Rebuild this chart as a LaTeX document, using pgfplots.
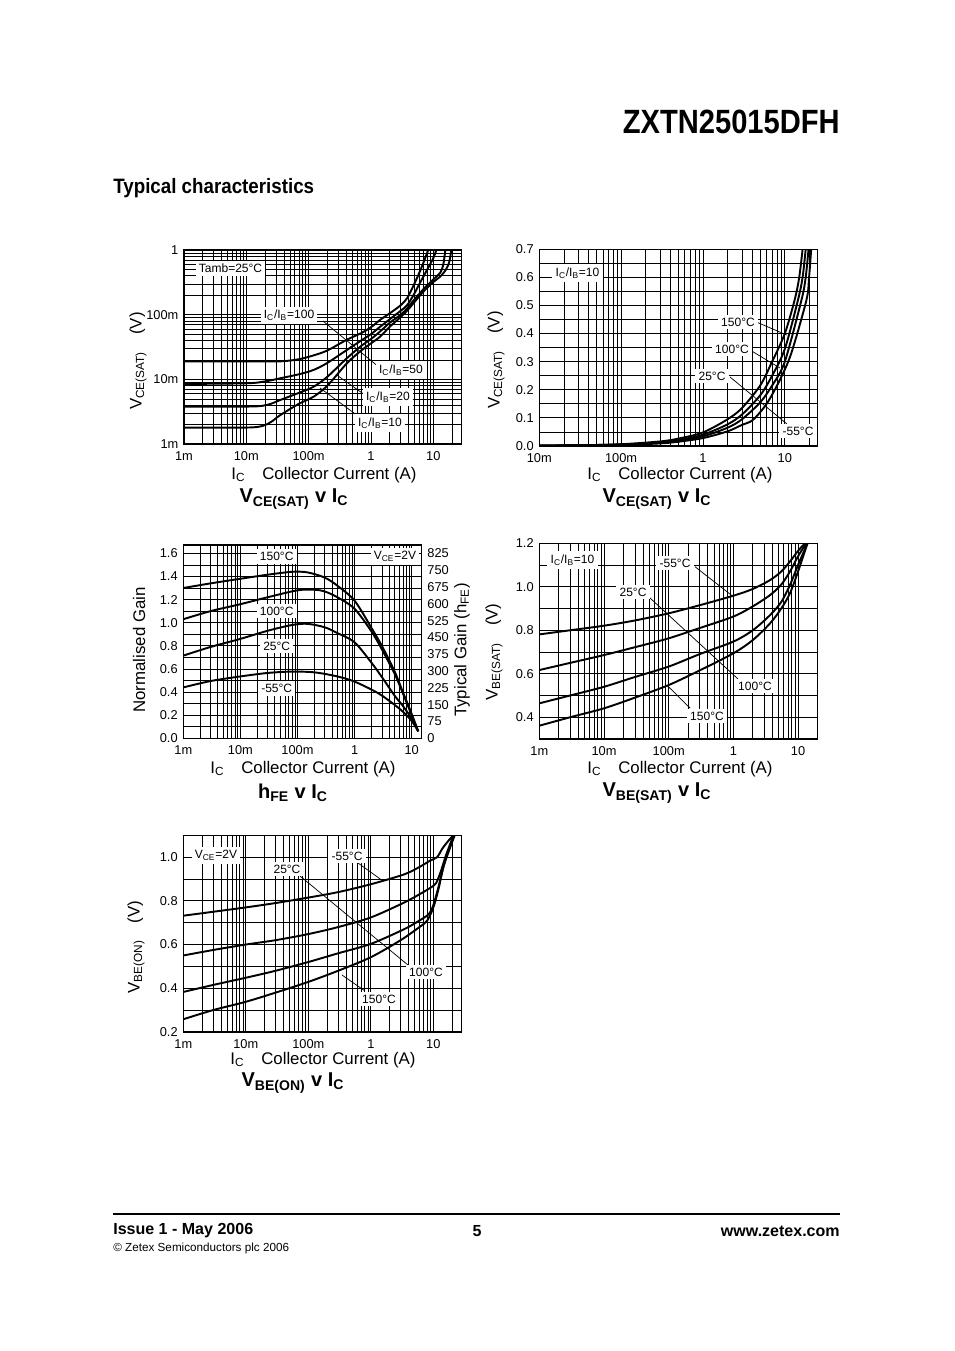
\documentclass[border=0pt]{standalone}
\usepackage{fontspec}
\setmainfont{Liberation Sans}
\usepackage{graphicx}
\usepackage{pgfplots}
\pgfplotsset{compat=1.18}

\newcommand{\sub}[1]{\textsubscript{#1}}
\newcommand{\lab}{\fontsize{10.5}{12}\selectfont}
\newcommand{\ttl}{\fontsize{12.5}{14}\selectfont\bfseries}

\pgfplotsset{
  dsgrid/.style={
    scale only axis, anchor=north west, grid=both,
    major grid style={black, line width=0.5pt},
    minor grid style={black, line width=0.4pt},
    major tick length=0pt, minor tick length=0pt,
    axis line style={line width=0.9pt},
    tick label style={font=\fontsize{8}{9}\selectfont},
    xticklabel style={yshift=-1pt},
    /pgf/number format/assume math mode=true,
  },
  fixlab/.style={yticklabel style={/pgf/number format/.cd, fixed, fixed zerofill, precision=1, assume math mode=true}},
  mxA/.style={minor xtick={0.002,0.003,0.004,0.005,0.006,0.007,0.008,0.009,0.02,0.03,0.04,0.05,0.06,0.07,0.08,0.09,0.2,0.3,0.4,0.5,0.6,0.7,0.8,0.9,2,3,4,5,6,7,8,9,20}},
  mxB/.style={minor xtick={0.02,0.03,0.04,0.05,0.06,0.07,0.08,0.09,0.2,0.3,0.4,0.5,0.6,0.7,0.8,0.9,2,3,4,5,6,7,8,9,20}},
  myA/.style={minor ytick={0.002,0.003,0.004,0.005,0.006,0.007,0.008,0.009,0.02,0.03,0.04,0.05,0.06,0.07,0.08,0.09,0.2,0.3,0.4,0.5,0.6,0.7,0.8,0.9}},
}
\tikzset{lbl/.style={fill=white, inner sep=2pt, font=\fontsize{7.5}{8}\selectfont},
  ldr/.style={black, line width=0.45pt},
  crv/.style={black, line width=1.2pt, smooth, tension=0.5, mark=none}}

\begin{document}
\begin{tikzpicture}[x=0.624pt,y=0.624pt]
\path[use as bounding box, fill=white] (0,0) rectangle (954,-1351);
\coordinate (P1) at (184,-250);
\coordinate (P2) at (539.3,-249.3);
\coordinate (P3) at (183.3,-545);
\coordinate (P4) at (539.3,-543.3);
\coordinate (P5) at (183.3,-835.3);

% ---------- header ----------
\node[anchor=east, inner sep=0pt] at (840,-122) {\scalebox{0.865}[1]{\fontsize{21}{24}\selectfont\bfseries ZXTN25015DFH}};
\node[anchor=west, inner sep=0pt] at (113,-188) {\scalebox{0.9}[1]{\fontsize{13}{15}\selectfont\bfseries Typical characteristics}};

% ---------- chart 1 : VCE(SAT) v IC ----------
\begin{axis}[dsgrid, mxA, myA, at={(P1)}, width=173.3pt, height=121.1pt,
  xmode=log, ymode=log, xmin=0.001, xmax=28.6, ymin=0.001, ymax=1,
  xtick={0.001,0.01,0.1,1,10}, xticklabels={1m,10m,100m,1,10},
  ytick={0.001,0.01,0.1,1}, yticklabels={1m,10m,100m,1}]
\addplot[crv] coordinates {(0.001,0.019)(0.01,0.019)(0.035,0.019)(0.07,0.0205)(0.12,0.0235)(0.2,0.028)(0.41,0.041)(0.7,0.052)(1,0.064)(1.4,0.083)(2,0.105)(3,0.14)(3.8,0.18)(4.8,0.28)(6,0.45)(7,0.65)(8.3,1.0)};
\addplot[crv] coordinates {(0.001,0.0085)(0.01,0.0087)(0.02,0.0093)(0.035,0.0104)(0.07,0.012)(0.12,0.014)(0.2,0.018)(0.41,0.0285)(0.7,0.04)(1,0.05)(1.4,0.065)(2,0.085)(3,0.115)(3.8,0.14)(4.8,0.2)(6,0.3)(8,0.5)(10,0.75)(11.2,1.0)};
\addplot[crv] coordinates {(0.001,0.0038)(0.01,0.0038)(0.018,0.0039)(0.025,0.0042)(0.035,0.0048)(0.07,0.0062)(0.12,0.0077)(0.2,0.011)(0.41,0.0212)(0.7,0.033)(1,0.042)(1.4,0.055)(2,0.075)(3,0.1)(3.8,0.125)(4.8,0.165)(7,0.25)(10,0.35)(13,0.45)(14.5,0.6)(15.6,1.0)};
\addplot[crv] coordinates {(0.001,0.0018)(0.01,0.0018)(0.018,0.0019)(0.025,0.0022)(0.035,0.0028)(0.07,0.0042)(0.12,0.0054)(0.2,0.008)(0.41,0.0177)(0.7,0.028)(1,0.036)(1.4,0.0457)(2,0.065)(3,0.092)(3.8,0.115)(4.8,0.15)(7,0.23)(10,0.32)(13,0.39)(16,0.5)(18,0.65)(19.5,1.0)};
\end{axis}
\draw[ldr] (323,-321) -- (380,-368);
\draw[ldr] (365,-395) -- (336.7,-375);
\draw[ldr] (358,-416) -- (320,-388);
\node[lbl] at (230.5,-268.5) {Tamb=25°C};
\node[lbl] at (289,-315.5) {I\sub{C}/I\sub{B}=100};
\node[lbl] at (401,-370) {I\sub{C}/I\sub{B}=50};
\node[lbl] at (388,-397) {I\sub{C}/I\sub{B}=20};
\node[lbl] at (380,-423) {I\sub{C}/I\sub{B}=10};
\node[rotate=90, font=\lab] at (138,-361) {V\sub{CE(SAT)}\quad(V)};
\node[font=\lab] at (324,-475) {I\sub{C}\quad Collector Current (A)};
\node[font=\ttl] at (294,-499) {V\sub{CE(SAT)} v I\sub{C}};

% ---------- chart 2 : VCE(SAT) v IC, temperature ----------
\begin{axis}[dsgrid, mxB, fixlab, at={(P2)}, width=173.5pt, height=122.7pt,
  xmode=log, xmin=0.01, xmax=25, ymin=0, ymax=0.7,
  xtick={0.01,0.1,1,10}, xticklabels={10m,100m,1,10},
  ytick={0,0.1,0.2,0.3,0.4,0.5,0.6,0.7},
  minor ytick={0.05,0.15,0.25,0.35,0.45,0.55,0.65}]
\addplot[crv] coordinates {(0.01,0.0012)(0.03,0.002)(0.1,0.006)(0.3,0.016)(0.5,0.026)(1,0.048)(2,0.095)(3,0.135)(5,0.215)(7,0.3)(10,0.4)(13.2,0.52)(15,0.6)(16.5,0.7)};
\addplot[crv] coordinates {(0.01,0.001)(0.1,0.005)(0.3,0.013)(0.5,0.021)(1,0.04)(2,0.077)(3,0.112)(5,0.18)(7,0.25)(10,0.345)(14.5,0.52)(16.5,0.6)(18,0.7)};
\addplot[crv] coordinates {(0.01,0.0009)(0.1,0.0045)(0.3,0.011)(0.5,0.018)(1,0.034)(2,0.065)(3,0.095)(5,0.155)(7,0.215)(10,0.3)(16,0.52)(18,0.6)(19.5,0.7)};
\addplot[crv] coordinates {(0.01,0.0008)(0.1,0.004)(0.3,0.009)(0.5,0.015)(1,0.028)(2,0.052)(3,0.075)(4.07,0.0925)(6,0.15)(8.7,0.235)(12,0.33)(18.4,0.52)(19.8,0.6)(21,0.7)};
\end{axis}
\draw[ldr] (758,-322.7) -- (786.7,-335);
\draw[ldr] (750,-350) -- (780,-368);
\draw[ldr] (730,-377) -- (787,-424);
\node[lbl] at (577.5,-273) {I\sub{C}/I\sub{B}=10};
\node[lbl] at (738,-322) {150°C};
\node[lbl] at (732,-349) {100°C};
\node[lbl] at (712,-376) {25°C};
\node[lbl] at (798,-431) {-55°C};
\node[rotate=90, font=\lab] at (496,-360) {V\sub{CE(SAT)}\quad(V)};
\node[font=\lab] at (680,-475) {I\sub{C}\quad Collector Current (A)};
\node[font=\ttl] at (657,-499) {V\sub{CE(SAT)} v I\sub{C}};

% ---------- chart 3 : hFE v IC ----------
\begin{axis}[dsgrid, mxA, fixlab, at={(P3)}, width=148.8pt, height=120.6pt,
  xmode=log, xmin=0.001, xmax=15, ymin=0, ymax=1.672,
  xtick={0.001,0.01,0.1,1,10}, xticklabels={1m,10m,100m,1,10},
  ytick={0,0.2,0.4,0.6,0.8,1.0,1.2,1.4,1.6},
  minor ytick={0.1,0.3,0.5,0.7,0.9,1.1,1.3,1.5}]
\addplot[crv] coordinates {(0.001,1.30)(0.003,1.34)(0.01,1.38)(0.03,1.415)(0.08,1.44)(0.15,1.435)(0.3,1.39)(0.5,1.32)(1,1.19)(2,0.95)(3,0.8)(5,0.58)(7,0.40)(10,0.21)(13,0.06)};
\addplot[crv] coordinates {(0.001,1.03)(0.003,1.10)(0.01,1.16)(0.03,1.22)(0.1,1.28)(0.2,1.285)(0.3,1.27)(0.5,1.22)(1,1.12)(2,0.92)(3,0.77)(5,0.56)(7,0.39)(10,0.20)(13,0.06)};
\addplot[crv] coordinates {(0.001,0.715)(0.003,0.79)(0.01,0.86)(0.03,0.93)(0.08,0.98)(0.15,0.99)(0.3,0.96)(0.5,0.91)(1,0.83)(2,0.65)(3,0.53)(5,0.37)(7,0.28)(10,0.17)(13,0.06)};
\addplot[crv] coordinates {(0.001,0.44)(0.003,0.495)(0.01,0.535)(0.03,0.565)(0.08,0.577)(0.2,0.57)(0.5,0.535)(1,0.49)(2,0.42)(3,0.37)(5,0.29)(7,0.23)(10,0.15)(13,0.06)};
\end{axis}
\begin{axis}[scale only axis, anchor=north west, at={(P3)}, width=148.8pt, height=120.6pt,
  xmode=log, xmin=0.001, xmax=15, ymin=0, ymax=862.3,
  axis x line=none, axis y line*=right, axis line style={line width=0.9pt},
  major tick length=0pt, minor tick length=0pt,
  ytick={0,75,150,225,300,375,450,525,600,675,750,825},
  tick label style={font=\fontsize{8}{9}\selectfont},
  /pgf/number format/assume math mode=true]
\end{axis}
\node[lbl] at (276.7,-556.5) {150°C};
\node[lbl] at (276.7,-611) {100°C};
\node[lbl] at (276.7,-646) {25°C};
\node[lbl] at (276.7,-688.5) {-55°C};
\node[lbl] at (395,-556.5) {V\sub{CE}=2V};
\node[rotate=90, font=\lab] at (139,-650) {Normalised Gain};
\node[rotate=90, font=\lab] at (462,-650) {Typical Gain (h\sub{FE})};
\node[font=\lab] at (303,-769) {I\sub{C}\quad Collector Current (A)};
\node[font=\ttl] at (293,-793) {h\sub{FE} v I\sub{C}};

% ---------- chart 4 : VBE(SAT) v IC ----------
\begin{axis}[dsgrid, fixlab, at={(P4)}, width=173.5pt, height=122.1pt,
  xmode=log, xmin=0.001, xmax=19.9, ymin=0.3, ymax=1.2,
  minor xtick={0.002,0.003,0.004,0.005,0.006,0.007,0.008,0.009,0.02,0.03,0.04,0.05,0.06,0.07,0.08,0.09,0.2,0.3,0.4,0.5,0.6,0.7,0.8,0.9,2,3,4,5,6,7,8,9},
  xtick={0.001,0.01,0.1,1,10}, xticklabels={1m,10m,100m,1,10},
  ytick={0.4,0.6,0.8,1.0,1.2}, minor ytick={0.3,0.5,0.7,0.9,1.1}]
\addplot[crv] coordinates {(0.001,0.781)(0.003,0.80)(0.01,0.821)(0.03,0.845)(0.1,0.878)(0.3,0.915)(1,0.959)(2,0.99)(3.7,1.031)(5.5,1.07)(7.5,1.116)(10,1.165)(12.8,1.2)};
\addplot[crv] coordinates {(0.001,0.617)(0.003,0.65)(0.01,0.686)(0.03,0.722)(0.1,0.763)(0.3,0.81)(1,0.863)(2,0.91)(3.7,0.962)(5.5,1.01)(7.5,1.07)(10,1.14)(13.4,1.2)};
\addplot[crv] coordinates {(0.001,0.464)(0.003,0.50)(0.01,0.54)(0.03,0.585)(0.1,0.633)(0.3,0.69)(1,0.748)(2,0.80)(3.7,0.87)(5.5,0.93)(7.5,1.008)(10,1.10)(14,1.2)};
\addplot[crv] coordinates {(0.001,0.361)(0.003,0.40)(0.01,0.441)(0.03,0.49)(0.1,0.548)(0.3,0.615)(1,0.694)(2,0.755)(3.7,0.832)(5.5,0.9)(7.5,0.97)(10,1.07)(14,1.2)};
\end{axis}
\draw[ldr] (695,-566.7) -- (733.3,-596.7);
\draw[ldr] (650,-598) -- (738,-679);
\draw[ldr] (690,-708) -- (666.7,-685);
\node[lbl] at (572.5,-560) {I\sub{C}/I\sub{B}=10};
\node[lbl] at (675,-563) {-55°C};
\node[lbl] at (633,-592) {25°C};
\node[lbl] at (755,-686) {100°C};
\node[lbl] at (707,-716) {150°C};
\node[rotate=90, font=\lab] at (494,-652) {V\sub{BE(SAT)}\quad(V)};
\node[font=\lab] at (680,-769) {I\sub{C}\quad Collector Current (A)};
\node[font=\ttl] at (657,-793) {V\sub{BE(SAT)} v I\sub{C}};

% ---------- chart 5 : VBE(ON) v IC ----------
\begin{axis}[dsgrid, mxA, fixlab, at={(P5)}, width=173.7pt, height=122.7pt,
  xmode=log, xmin=0.001, xmax=28.4, ymin=0.2, ymax=1.1,
  xtick={0.001,0.01,0.1,1,10}, xticklabels={1m,10m,100m,1,10},
  ytick={0.2,0.4,0.6,0.8,1.0}, minor ytick={0.3,0.5,0.7,0.9}]
\addplot[crv] coordinates {(0.001,0.732)(0.003,0.75)(0.01,0.77)(0.03,0.79)(0.1,0.815)(0.3,0.84)(1,0.876)(3.4,0.921)(6,0.955)(9,0.985)(11.5,1.0)(14,1.04)(18,1.08)(21,1.1)};
\addplot[crv] coordinates {(0.001,0.55)(0.003,0.575)(0.01,0.60)(0.03,0.62)(0.1,0.648)(0.3,0.68)(1,0.724)(3.4,0.792)(6,0.83)(9,0.86)(11,0.88)(13,0.93)(16,1.01)(21,1.1)};
\addplot[crv] coordinates {(0.001,0.383)(0.003,0.415)(0.01,0.448)(0.03,0.48)(0.1,0.52)(0.3,0.56)(1,0.603)(3.4,0.67)(6,0.71)(8.5,0.74)(10,0.78)(12,0.86)(15,0.97)(21.5,1.1)};
\addplot[crv] coordinates {(0.001,0.258)(0.003,0.30)(0.01,0.338)(0.03,0.38)(0.1,0.429)(0.3,0.48)(1,0.542)(3,0.62)(6,0.68)(8,0.71)(10,0.77)(12,0.85)(15,0.97)(22,1.1)};
\end{axis}
\draw[ldr] (358,-863) -- (383,-881);
\draw[ldr] (300,-876) -- (408,-965);
\draw[ldr] (365,-991) -- (342,-975);
\node[lbl] at (216,-855.5) {V\sub{CE}=2V};
\node[lbl] at (347,-856) {-55°C};
\node[lbl] at (287,-869) {25°C};
\node[lbl] at (426,-972) {100°C};
\node[lbl] at (379,-999) {150°C};
\node[rotate=90, font=\lab] at (136,-947) {V\sub{BE(ON)}\quad(V)};
\node[font=\lab] at (323,-1060) {I\sub{C}\quad Collector Current (A)};
\node[font=\ttl] at (293,-1083) {V\sub{BE(ON)} v I\sub{C}};

% ---------- footer ----------
\draw[line width=0.8pt] (113,-1214) -- (840,-1214);
\node[anchor=west, inner sep=0pt, font=\fontsize{10}{12}\selectfont\bfseries] at (113,-1231) {Issue 1 - May 2006};
\node[inner sep=0pt, font=\fontsize{10}{12}\selectfont\bfseries] at (477,-1231) {5};
\node[anchor=east, inner sep=0pt, font=\fontsize{10}{12}\selectfont\bfseries] at (840,-1231) {www.zetex.com};
\node[anchor=west, inner sep=0pt, font=\fontsize{7.3}{9}\selectfont] at (113,-1248) {© Zetex Semiconductors plc 2006};
\end{tikzpicture}
\end{document}
